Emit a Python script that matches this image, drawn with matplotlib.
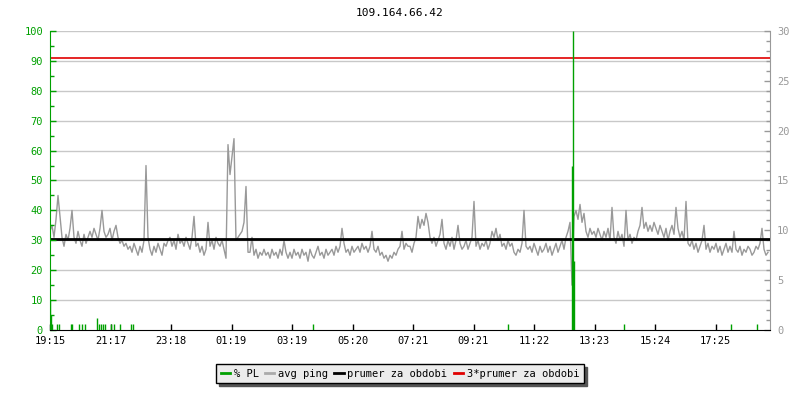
import numpy as np
import matplotlib
matplotlib.use("Agg")
import matplotlib.pyplot as plt
from matplotlib.lines import Line2D
from matplotlib.ticker import MultipleLocator

title = "109.164.66.42"
tick_labels = ["19:15", "21:17", "23:18", "01:19", "03:19", "05:20",
               "07:21", "09:21", "11:22", "13:23", "15:24", "17:25"]
tick_step_min = 121          # minutes between time labels
span_min = 1440              # 24 hours shown
sample_step_min = 4          # ping sample spacing (minutes)

# average ping (ms), one value every 4 minutes starting 19:15
ping_ms = [
    9.9,10.5,9.3,11.1,13.5,11.4,9.3,8.4,9.6,9.0,10.2,12.0,9.3,8.7,9.9,9.0,8.4,9.6,8.7,9.3,
    9.9,9.3,10.2,9.6,9.0,10.2,12.0,9.9,9.3,9.6,10.2,9.0,9.9,10.5,9.3,8.7,9.0,8.4,8.7,8.1,
    8.4,7.8,8.7,8.1,7.5,8.4,7.8,9.0,16.5,9.3,8.1,7.5,8.4,7.8,8.7,8.1,7.5,8.7,8.4,9.0,
    9.3,8.4,9.0,8.1,9.6,8.7,9.0,8.4,9.3,8.7,8.1,9.3,11.4,8.4,8.7,7.8,8.4,7.5,8.1,10.8,
    8.4,9.0,8.1,9.3,8.7,8.4,9.0,8.1,7.2,18.6,15.6,17.4,19.2,9.0,9.3,9.6,9.9,10.8,14.4,7.8,
    7.8,9.3,7.5,8.1,7.2,7.8,7.5,8.1,7.5,7.8,7.2,8.1,7.5,7.8,7.2,8.1,7.5,9.0,7.8,7.2,
    7.8,7.2,8.1,7.5,7.8,7.2,8.1,7.5,7.8,6.9,8.1,7.5,7.2,7.8,8.4,7.5,7.8,7.2,8.1,7.5,
    7.8,8.1,7.5,8.4,7.8,8.4,10.2,8.7,7.8,8.1,7.5,8.4,7.8,8.1,8.4,7.8,8.7,8.1,8.4,7.8,
    8.4,9.9,8.1,7.8,8.4,7.5,7.8,7.2,7.5,6.9,7.5,7.2,7.8,7.5,8.1,8.4,9.9,8.1,8.7,8.4,
    8.4,7.8,8.7,9.3,11.4,10.2,11.1,10.5,11.7,10.8,9.3,8.7,9.3,8.4,9.0,9.6,11.1,8.7,8.1,9.0,
    8.4,9.3,8.1,9.0,10.5,8.7,8.1,8.4,9.0,8.1,8.7,9.3,12.9,8.4,9.0,8.1,8.7,8.4,9.0,8.1,
    8.7,9.9,9.3,10.2,9.0,9.6,8.4,8.7,8.1,9.0,8.4,8.7,7.8,7.5,8.1,7.8,8.7,12.0,8.4,8.1,
    8.4,7.8,8.7,8.1,7.5,8.4,7.8,8.1,8.7,7.8,8.4,7.5,8.1,8.7,7.8,8.4,9.0,8.1,9.3,9.9,
    10.8,4.5,11.4,12.0,11.1,12.6,10.8,11.7,9.9,9.3,10.2,9.6,9.9,9.3,10.2,9.6,9.0,9.9,9.3,10.2,
    9.0,12.3,9.3,8.7,9.9,9.0,9.6,8.4,12.0,9.0,9.6,8.7,9.3,9.0,9.9,10.5,12.3,10.2,10.8,9.9,
    10.5,9.9,10.8,10.2,9.6,10.5,9.9,9.3,10.2,9.0,9.9,10.5,9.6,12.3,10.2,9.3,9.9,9.0,12.9,8.7,
    8.4,9.0,8.1,8.7,7.8,8.4,9.0,10.5,8.1,8.7,7.8,8.4,8.1,8.7,7.8,8.4,7.5,8.1,8.7,7.8,
    8.4,7.8,9.9,8.1,7.8,8.4,7.5,8.1,7.8,8.4,8.1,7.5,7.8,8.4,8.1,8.7,10.2,8.1,7.5,7.8,
]

# packet loss events: minutes after 19:15 and % lost
pl_minutes = [0, 2, 4, 14, 18, 42, 44, 58, 64, 70, 94, 98, 102, 106, 110,
              122, 128, 140, 162, 166, 526, 916, 1044, 1046, 1048, 1148, 1362, 1414]
pl_values = [10, 5, 2, 2, 2, 2, 2, 2, 2, 2, 4, 2, 2, 2, 2,
             2, 2, 2, 2, 2, 2, 2, 55, 100, 23, 2, 2, 2]

mean_ping = 9.1
mean3_ping = 27.3

GREEN = "#00a000"
GRAY = "#999999"
GRID = "#c8c8c8"
FONT = "DejaVu Sans Mono"
FS = 7.5

t_ping = np.arange(len(ping_ms)) * sample_step_min

fig = plt.figure(figsize=(8, 4), dpi=100)
ax = fig.add_axes([0.0625, 0.175, 0.9, 0.7475])
ax2 = ax.twinx()
ax.set_zorder(ax2.get_zorder() + 1)
ax.patch.set_visible(False)

# ping (right axis)
ax2.plot(t_ping, ping_ms, color=GRAY, lw=1.0, zorder=2)
ax2.axhline(mean_ping, color="black", lw=2.0, zorder=3)
ax2.axhline(mean3_ping, color="#e00000", lw=1.2, zorder=3)
ax2.set_ylim(0, 30)

# packet loss (left axis)
ax.vlines(pl_minutes, 0, pl_values, color=GREEN, lw=1.0, zorder=4)
ax.set_ylim(0, 100)
ax.set_xlim(0, span_min)

# grid lines (drawn behind the ping on the lower axes)
for v in range(10, 101, 10):
    ax2.axhline(v * 30 / 100, color=GRID, lw=1.0, zorder=0)

ax.set_xticks([k * tick_step_min for k in range(len(tick_labels))])
ax.set_xticklabels(tick_labels, fontfamily=FONT, fontsize=FS)
ax.tick_params(axis="x", direction="in", length=4, width=1, colors="black", pad=4)

ax.yaxis.set_major_locator(MultipleLocator(10))
ax.yaxis.set_minor_locator(MultipleLocator(5))
ax.tick_params(axis="y", which="major", direction="in", length=4, width=1,
               colors=GREEN, labelsize=FS, pad=5)
ax.tick_params(axis="y", which="minor", direction="in", length=3, width=1, colors=GREEN)
for lab in ax.get_yticklabels():
    lab.set_fontfamily(FONT)

ax2.yaxis.set_major_locator(MultipleLocator(5))
ax2.yaxis.set_minor_locator(MultipleLocator(1))
ax2.tick_params(axis="y", which="major", direction="in", length=4, width=1,
                colors=GRAY, labelsize=FS, pad=5)
ax2.tick_params(axis="y", which="minor", direction="in", length=3, width=1, colors=GRAY)
for lab in ax2.get_yticklabels():
    lab.set_fontfamily(FONT)

for a in (ax, ax2):
    a.spines["top"].set_visible(False)
ax.spines["left"].set_color(GREEN)
ax.spines["right"].set_visible(False)
ax2.spines["left"].set_visible(False)
ax2.spines["right"].set_color(GRAY)
ax.spines["bottom"].set_color("black")
ax2.spines["bottom"].set_visible(False)

fig.text(0.5, 0.967, title, ha="center", va="center", fontfamily=FONT, fontsize=8)

handles = [
    Line2D([], [], color=GREEN, lw=2),
    Line2D([], [], color="#aaaaaa", lw=2),
    Line2D([], [], color="black", lw=2),
    Line2D([], [], color="#e00000", lw=2),
]
labels = ["% PL", "avg ping", "prumer za obdobi", "3*prumer za obdobi"]
leg = fig.legend(handles, labels, loc="center", bbox_to_anchor=(0.5, 0.066), ncol=4,
                 prop={"family": FONT, "size": FS}, frameon=True, fancybox=False,
                 shadow={"color": "#555555", "alpha": 1}, handlelength=0.9,
                 handletextpad=0.35, columnspacing=0.6, borderpad=0.45)
leg.get_frame().set_facecolor("#ececec")
leg.get_frame().set_edgecolor("black")
leg.get_frame().set_linewidth(1.0)

fig.savefig("out.png", dpi=100)
